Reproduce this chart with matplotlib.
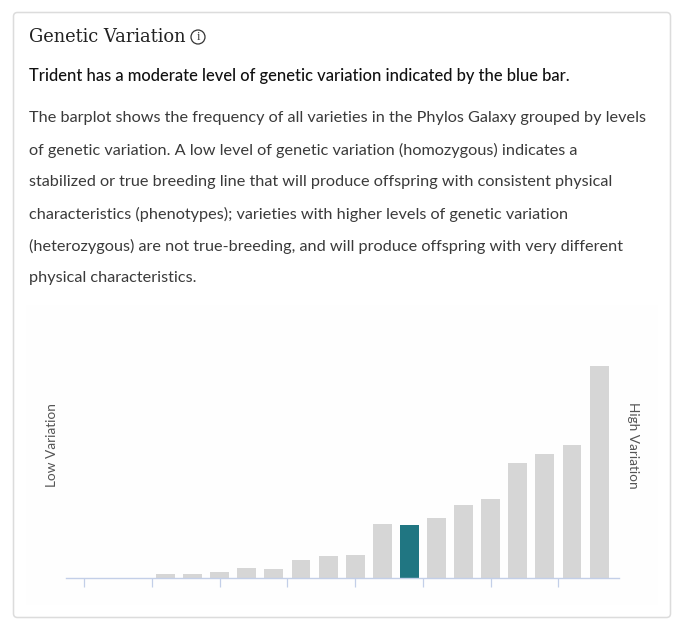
#!/usr/bin/env python3
"""Genetic variation card: intro text above a small frequency barplot."""

import matplotlib

matplotlib.use("Agg")

import matplotlib.pyplot as plt
from matplotlib.patches import Circle, FancyBboxPatch

WIDTH, HEIGHT = 688, 630

# bar heights, index = variation bin
bins = list(range(20))
freq = [0, 0, 0, 4, 4, 6, 10, 9, 18, 22, 23, 54, 53, 60, 73, 79, 115, 124, 133, 212]
highlight_bin = 12
tick_bins = [0, 2.5, 5, 7.5, 10, 12.5, 15, 17.5]

title = "Genetic Variation"
summary = "Trident has a moderate level of genetic variation indicated by the blue bar."
body_lines = [
    "The barplot shows the frequency of all varieties in the Phylos Galaxy grouped by levels",
    "of genetic variation. A low level of genetic variation (homozygous) indicates a",
    "stabilized or true breeding line that will produce offspring with consistent physical",
    "characteristics (phenotypes); varieties with higher levels of genetic variation",
    "(heterozygous) are not true-breeding, and will produce offspring with very different",
    "physical characteristics.",
]

GREY = "#d6d6d6"
TEAL = "#207682"
AXIS = "#c3cfe8"
TEXT = "#3a3a3a"

plt.rcParams["font.family"] = ["Lato", "DejaVu Sans"]

fig = plt.figure(figsize=(WIDTH / 100, HEIGHT / 100), dpi=100, facecolor="white")

# page layer in pixel coordinates, y pointing down
page = fig.add_axes([0, 0, 1, 1])
page.set_xlim(0, WIDTH)
page.set_ylim(HEIGHT, 0)
page.axis("off")

page.add_patch(FancyBboxPatch((13.5, 12.5), 657, 605, boxstyle="round,pad=0,rounding_size=4",
                              facecolor="white", edgecolor="#dcdcdc", linewidth=1.1))
page.add_patch(plt.Rectangle((26, 305), 632, 300, facecolor="#fefefe", edgecolor="none"))

page.text(29, 36.5, title, family="DejaVu Serif", fontsize=12.85, color="#222222", va="center")
page.add_patch(Circle((198, 37), 7, facecolor="none", edgecolor="#333333", linewidth=0.9))
page.text(198, 37.3, "i", family="Liberation Serif", fontsize=9, color="#333333",
          ha="center", va="center")

page.text(29, 76.2, summary, fontsize=11.9, fontweight="medium", color="#111111", va="center")
for i, line in enumerate(body_lines):
    page.text(29, 118.3 + i * 32, line, fontsize=11.7, color=TEXT, va="center")

page.text(52, 445.5, "Low Variation", fontsize=9.8, color="#555555", rotation=90,
          ha="center", va="center")
page.text(633, 445.5, "High Variation", fontsize=9.8, color="#555555", rotation=270,
          ha="center", va="center")

# chart axes: x runs 66-619 px, baseline at 578 px, top at 366 px
ax = fig.add_axes([66 / WIDTH, 1 - 578.3 / HEIGHT, 553 / WIDTH, 212.3 / HEIGHT])
ax.patch.set_alpha(0)
colors = [TEAL if b == highlight_bin else GREY for b in bins]
ax.bar(bins, freq, width=0.7, color=colors, linewidth=0)
ax.set_xlim(-18.2 / 27.1, (619 - 84.2) / 27.1)
ax.set_ylim(0, 212)
ax.set_xticks(tick_bins)
ax.set_xticklabels([])
ax.set_yticks([])
ax.tick_params(axis="x", length=6.4, width=0.9, color=AXIS)
for side in ("top", "left", "right"):
    ax.spines[side].set_visible(False)
ax.spines["bottom"].set_color(AXIS)
ax.spines["bottom"].set_linewidth(1.0)

fig.savefig("out.png", dpi=100)
